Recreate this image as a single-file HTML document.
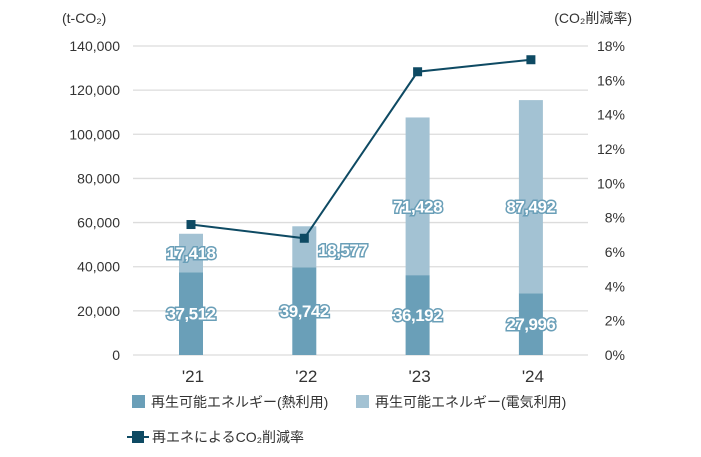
<!DOCTYPE html>
<html><head><meta charset="utf-8"><style>
body{margin:0;background:#fff;}
svg text{font-family:"Liberation Sans","Noto Sans CJK JP",sans-serif;}
</style></head><body>
<svg id="c" width="701" height="452" xmlns="http://www.w3.org/2000/svg"></svg>
<script>
const categories=["'21","'22","'23","'24"];
const heatValues=[37512,39742,36192,27996];
const elecValues=[17418,18577,71428,87492];
const rateValues=[7.6,6.8,16.5,17.2];
const leftTicks=[0,20000,40000,60000,80000,100000,120000,140000];
const rightTicks=[0,2,4,6,8,10,12,14,16,18];
const NS="http://www.w3.org/2000/svg";
const svg=document.getElementById('c');
const X0=133,X1=588,Y0=355,Y1=46;
const yL=v=>Y0-(v/140000)*(Y0-Y1);
const yR=v=>Y0-(v/18)*(Y0-Y1);
const xC=i=>191+i*113.3;
function mk(t,a,txt){const e=document.createElementNS(NS,t);for(const k in a)e.setAttribute(k,a[k]);if(txt!==undefined)e.textContent=txt;svg.appendChild(e);return e;}
leftTicks.forEach(v=>{
 const g=mk('line',{x1:X0,x2:X1,y1:yL(v),y2:yL(v),stroke:'#dcdcdc','stroke-width':1.3});
 
 
 const t=mk('text',{x:120,y:yL(v)+5,'text-anchor':'end','font-size':14,fill:'#333'},v.toLocaleString('en-US'));
 
 
});
rightTicks.forEach(v=>{
 const t=mk('text',{x:625,y:yR(v)+5,'text-anchor':'end','font-size':14,fill:'#333'},v+'%');
 
 
});
let t=mk('text',{x:62,y:23,'font-size':14,fill:'#333'},'(t-CO₂)');


t=mk('text',{x:632,y:23,'text-anchor':'end','font-size':14,fill:'#333'},'(CO₂削減率)');


const BW=24;
categories.forEach((c,i)=>{
 const x=xC(i)-BW/2;
 const h=heatValues[i],e=elecValues[i];
 let r=mk('rect',{x:x,y:yL(h),width:BW,height:Y0-yL(h),fill:'#6a9fb8'});
 
 
 r=mk('rect',{x:x,y:yL(h+e),width:BW,height:yL(h)-yL(h+e),fill:'#a3c2d3'});
 
 
 const ct=mk('text',{x:xC(i)+2,y:Y0+27,'text-anchor':'middle','font-size':17,fill:'#333'},c);
 
 
});
// line
const pts=rateValues.map((v,i)=>xC(i)+','+yR(v)).join(' ');
const pl=mk('polyline',{points:pts,fill:'none',stroke:'#0e4a63','stroke-width':2});


rateValues.forEach((v,i)=>{
 const m=mk('rect',{x:xC(i)-4.5,y:yR(v)-4.5,width:9,height:9,fill:'#0e4a63'});
 
 
});
// value labels
function lab(x,y,v,anchor){
 const a={x:x,y:y,'text-anchor':anchor,'font-size':17,'font-weight':'bold',fill:'#fff',stroke:'#6a9fb8','stroke-width':3,'paint-order':'stroke','letter-spacing':'-0.5'};
 const l=mk('text',a,v.toLocaleString('en-US'));
 
 
}
categories.forEach((c,i)=>{
 lab(xC(i),yL(heatValues[i]/2)+6,heatValues[i],'middle');
 const ym=yL(heatValues[i]+elecValues[i]/2)+6+(elecValues[i]>50000?10:0);
 if(i===1) lab(xC(i)+14,ym+3,elecValues[i],'start');
 else lab(xC(i),ym,elecValues[i],'middle');
});
// legend
let r=mk('rect',{x:132,y:395,width:13,height:13,fill:'#6a9fb8'});


t=mk('text',{x:151,y:407,'font-size':14,fill:'#333'},'再生可能エネルギー(熱利用)');


r=mk('rect',{x:356,y:395,width:13,height:13,fill:'#a3c2d3'});


t=mk('text',{x:375,y:407,'font-size':14,fill:'#333'},'再生可能エネルギー(電気利用)');


let ll=mk('line',{x1:127,x2:149,y1:437,y2:437,stroke:'#0e4a63','stroke-width':2});


r=mk('rect',{x:132,y:431,width:12,height:12,fill:'#0e4a63'});


t=mk('text',{x:152,y:442,'font-size':14,fill:'#333'},'再エネによるCO₂削減率');


</script>
</body></html>
